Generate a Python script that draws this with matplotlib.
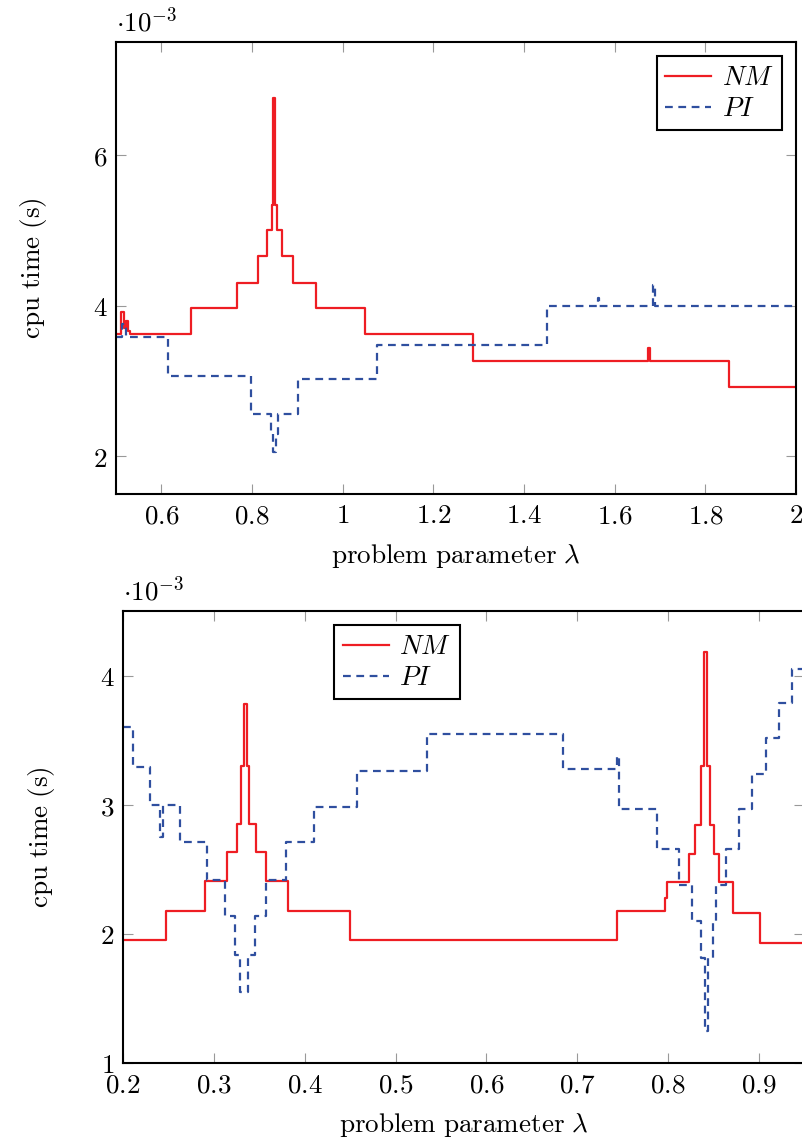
import matplotlib
matplotlib.use("Agg")
from matplotlib import pyplot as plt
from matplotlib.ticker import FixedLocator, FuncFormatter

plt.rcParams['mathtext.fontset'] = 'cm'
plt.rcParams['font.family'] = ['DejaVu Serif']

# cpu time values in units of 1e-3 s, step breakpoints (steps-post)
top_nm_x = [0.500, 0.512, 0.517, 0.522, 0.527, 0.532, 0.665, 0.767, 0.813, 0.833, 0.844,
            0.847, 0.851, 0.856, 0.866, 0.890, 0.941, 1.050, 1.288, 1.673, 1.678, 1.852, 2.000]
top_nm_y = [3.62, 3.92, 3.70, 3.80, 3.66, 3.62, 3.97, 4.30, 4.66, 5.00, 5.34,
            6.75, 5.34, 5.00, 4.66, 4.30, 3.97, 3.62, 3.26, 3.44, 3.26, 2.92, 2.92]

top_pi_x = [0.500, 0.514, 0.522, 0.615, 0.798, 0.842, 0.846, 0.852, 0.857, 0.902, 1.076,
            1.451, 1.563, 1.566, 1.685, 1.689, 2.000]
top_pi_y = [3.58, 3.75, 3.58, 3.06, 2.56, 2.30, 2.06, 2.30, 2.56, 3.03, 3.48,
            4.00, 4.10, 4.00, 4.28, 4.00, 4.00]

bot_nm_x = [0.200, 0.247, 0.290, 0.314, 0.325, 0.330, 0.333, 0.336, 0.339, 0.346, 0.357,
            0.382, 0.450, 0.744, 0.796, 0.799, 0.823, 0.830, 0.836, 0.839, 0.843, 0.846,
            0.850, 0.856, 0.871, 0.901, 0.950]
bot_nm_y = [1.95, 2.18, 2.41, 2.63, 2.85, 3.30, 3.78, 3.30, 2.85, 2.63, 2.41,
            2.18, 1.95, 2.18, 2.28, 2.40, 2.62, 2.84, 3.30, 4.18, 3.30, 2.84,
            2.62, 2.40, 2.16, 1.93, 1.93]

bot_pi_x = [0.200, 0.211, 0.230, 0.241, 0.244, 0.263, 0.292, 0.312, 0.323, 0.329, 0.337,
            0.345, 0.357, 0.379, 0.410, 0.457, 0.534, 0.684, 0.744, 0.746, 0.788, 0.812,
            0.826, 0.836, 0.840, 0.844, 0.849, 0.853, 0.864, 0.878, 0.892, 0.908, 0.922,
            0.936, 0.950]
bot_pi_y = [3.60, 3.29, 3.00, 2.75, 3.00, 2.71, 2.42, 2.14, 1.84, 1.55, 1.84,
            2.14, 2.42, 2.71, 2.98, 3.26, 3.55, 3.28, 3.38, 2.97, 2.66, 2.38,
            2.10, 1.81, 1.25, 1.81, 2.10, 2.38, 2.66, 2.97, 3.24, 3.52, 3.79,
            4.05, 4.05]

top_xticks = [0.6, 0.8, 1.0, 1.2, 1.4, 1.6, 1.8, 2.0]
top_yticks = [2, 4, 6]
bot_xticks = [0.2, 0.3, 0.4, 0.5, 0.6, 0.7, 0.8, 0.9]
bot_yticks = [1, 2, 3, 4]

red = '#ee1d23'
blue = '#2f4f9f'
fs = 19.5

fig = plt.figure(figsize=(8.02, 11.37), dpi=100)
ax1 = fig.add_axes([0.1446, 0.5655, 0.8479, 0.3976])
ax2 = fig.add_axes([0.1534, 0.0651, 0.8497, 0.3975])


def fmt(v, pos):
    s = ('%g' % v)
    return '$%s$' % s


def style(ax, xt, yt, xlim, ylim, ylpad):
    ax.set_xlim(*xlim)
    ax.set_ylim(*ylim)
    ax.xaxis.set_major_locator(FixedLocator(xt))
    ax.yaxis.set_major_locator(FixedLocator(yt))
    ax.xaxis.set_major_formatter(FuncFormatter(fmt))
    ax.yaxis.set_major_formatter(FuncFormatter(fmt))
    ax.tick_params(direction='in', length=7.5, width=0.8, color='#999999',
                   top=True, right=True, labelsize=fs, pad=6)
    for sp in ax.spines.values():
        sp.set_linewidth(1.5)
    ax.set_xlabel(r'$\mathrm{problem\ parameter}\ \lambda$', fontsize=fs, labelpad=9)
    ax.set_ylabel(r'$\mathrm{cpu\ time\ (s)}$', fontsize=fs, labelpad=ylpad)
    ax.text(0.0, 1.01, r'$\cdot 10^{-3}$', transform=ax.transAxes,
            fontsize=fs, ha='left', va='bottom')


ax1.plot(top_nm_x, top_nm_y, drawstyle='steps-post', color=red, lw=1.6, label='$NM$')
ax1.plot(top_pi_x, top_pi_y, drawstyle='steps-post', color=blue, lw=1.6,
         dashes=(3.5, 2.5), label='$PI$')
style(ax1, top_xticks, top_yticks, (0.5, 2.0), (1.5, 7.5), 32)
leg1 = ax1.legend(loc='upper right', fontsize=fs, fancybox=False, framealpha=1,
                  edgecolor='black', handlelength=1.7, borderaxespad=0.4,
                  labelspacing=0.15, handletextpad=0.4, borderpad=0.3,
                  bbox_to_anchor=(0.995, 0.993))
leg1.get_frame().set_linewidth(1.5)

ax2.plot(bot_nm_x, bot_nm_y, drawstyle='steps-post', color=red, lw=1.6, label='$NM$')
ax2.plot(bot_pi_x, bot_pi_y, drawstyle='steps-post', color=blue, lw=1.6,
         dashes=(3.5, 2.5), label='$PI$')
style(ax2, bot_xticks, bot_yticks, (0.2, 0.95), (1.0, 4.5), 31)
leg2 = ax2.legend(loc='upper center', fontsize=fs, fancybox=False, framealpha=1,
                  edgecolor='black', handlelength=1.7, borderaxespad=0.4,
                  labelspacing=0.15, handletextpad=0.4, borderpad=0.3,
                  bbox_to_anchor=(0.402, 0.993))
leg2.get_frame().set_linewidth(1.5)

fig.savefig('out.png', dpi=100)
